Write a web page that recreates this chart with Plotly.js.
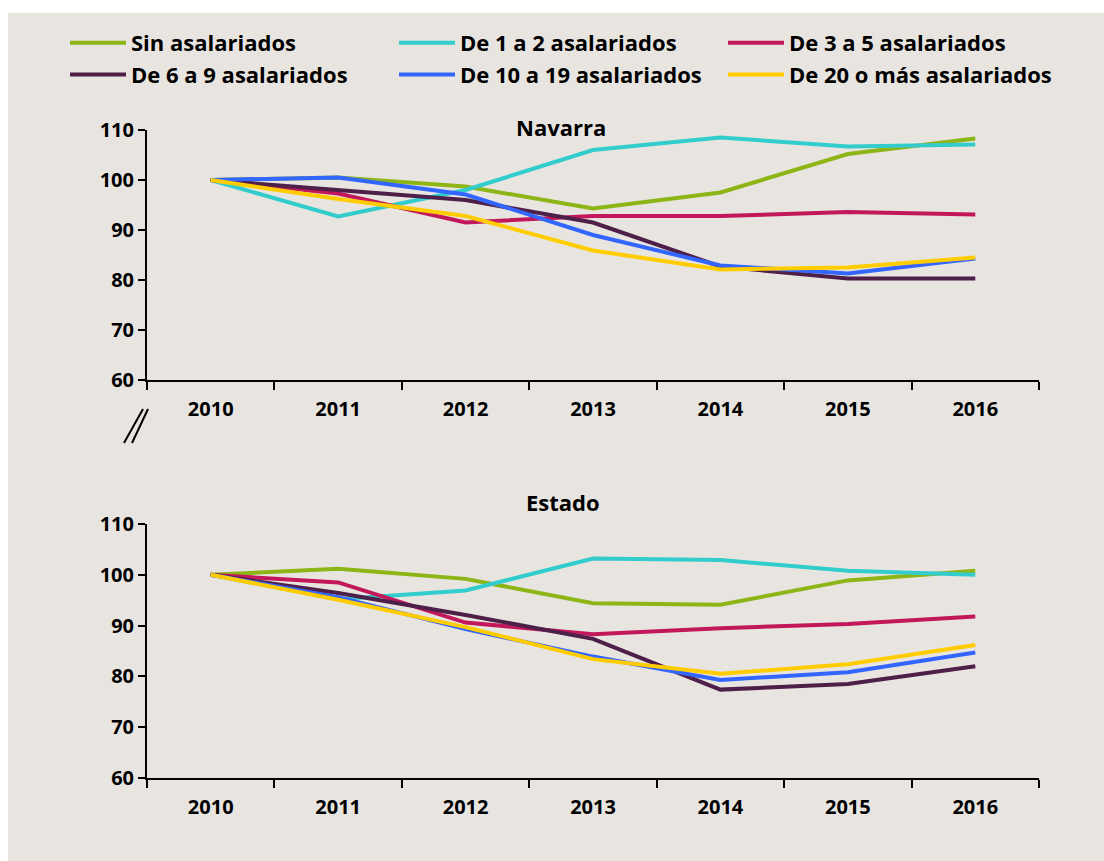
<!DOCTYPE html>
<html>
<head>
<meta charset="utf-8">
<script src="https://cdn.plot.ly/plotly-3.0.1.min.js"></script>
<style>
  body { margin: 0; background: #ffffff; }
  #chart { position: absolute; left: 8px; top: 13px; width: 1096px; height: 848px; }
</style>
</head>
<body>
<div id="chart"></div>
<script>
  // years on the x axis
  const years = ["2010", "2011", "2012", "2013", "2014", "2015", "2016"];

  const seriesNames = [
    "Sin asalariados",
    "De 1 a 2 asalariados",
    "De 3 a 5 asalariados",
    "De 6 a 9 asalariados",
    "De 10 a 19 asalariados",
    "De 20 o más asalariados",
  ];
  const seriesColors = ["#8db516", "#33cccc", "#c2185b", "#4d1f49", "#3366ff", "#ffcc00"];

  // Navarra (index 2010 = 100)
  const navSin = [100, 100.5, 98.7, 94.3, 97.5, 105.2, 108.3];
  const nav1a2 = [100, 92.7, 98.0, 106.0, 108.5, 106.7, 107.1];
  const nav3a5 = [100, 97.3, 91.5, 92.8, 92.8, 93.6, 93.1];
  const nav6a9 = [100, 97.9, 96.0, 91.5, 82.7, 80.3, 80.3];
  const nav10a19 = [100, 100.5, 97.1, 89.0, 82.9, 81.3, 84.3];
  const nav20mas = [100, 96.2, 92.8, 85.9, 82.1, 82.5, 84.5];

  // Estado (index 2010 = 100)
  const estSin = [100, 101.2, 99.2, 94.4, 94.1, 98.9, 100.8];
  const est1a2 = [100, 95.2, 96.9, 103.2, 102.9, 100.8, 100.0];
  const est3a5 = [100, 98.5, 90.6, 88.3, 89.5, 90.3, 91.8];
  const est6a9 = [100, 96.4, 92.1, 87.4, 77.4, 78.5, 82.0];
  const est10a19 = [100, 95.6, 89.3, 83.9, 79.3, 80.8, 84.7];
  const est20mas = [100, 95.1, 89.7, 83.4, 80.5, 82.4, 86.2];

  const navarra = [navSin, nav1a2, nav3a5, nav6a9, nav10a19, nav20mas];
  const estado = [estSin, est1a2, est3a5, est6a9, est10a19, est20mas];

  const FONT = "Open Sans, sans-serif";

  // figure geometry (px)
  const W = 1096, H = 848;
  const M = { l: 139, r: 65, t: 100, b: 0 };
  const PW = W - M.l - M.r, PH = H - M.t - M.b;
  let px2x = (px) => (px - M.l) / PW;
  let px2y = (py) => 1 - (py - M.t) / PH;

  let makeTraces = (values, axis, showlegend) =>
    values.map((ys, i) => ({
      type: "scatter",
      mode: "lines",
      x: years,
      y: ys,
      name: seriesNames[i],
      legendgroup: seriesNames[i],
      showlegend: showlegend,
      xaxis: axis.x,
      yaxis: axis.y,
      line: { color: seriesColors[i], width: 4 },
      hoverinfo: "x+y+name",
    }));

  const data = [
    ...makeTraces(navarra, { x: "x", y: "y" }, true),
    ...makeTraces(estado, { x: "x2", y: "y2" }, false),
  ];

  let xAxis = (anchor) => ({
    anchor: anchor,
    domain: [0, 1],
    type: "category",
    range: [-0.5, 6.5],
    tickson: "boundaries",
    ticks: "outside",
    ticklen: 8,
    tickwidth: 2,
    tickcolor: "#000",
    showline: true,
    linecolor: "#000",
    linewidth: 2,
    showgrid: false,
    zeroline: false,
    ticklabelstandoff: 10,
    tickfont: { family: FONT, size: 20, weight: 700, color: "#000" },
  });

  let yAxis = (anchor, top, bottom) => ({
    anchor: anchor,
    domain: [px2y(bottom), px2y(top)],
    range: [60, 110],
    dtick: 10,
    ticks: "outside",
    ticklen: 7,
    tickwidth: 2,
    tickcolor: "#000",
    showline: true,
    linecolor: "#000",
    linewidth: 2,
    showgrid: false,
    zeroline: false,
    tickfont: { family: FONT, size: 20, weight: 700, color: "#000" },
  });

  // break mark "//" between panels
  let breakLine = (x0, y0, x1, y1) => ({
    type: "line",
    xref: "paper",
    yref: "paper",
    x0: px2x(x0),
    x1: px2x(x1),
    y0: px2y(y0),
    y1: px2y(y1),
    line: { color: "#000", width: 2 },
  });

  let panelTitle = (text, cx, cy) => ({
    text: text,
    xref: "paper",
    yref: "paper",
    x: px2x(cx),
    y: px2y(cy),
    showarrow: false,
    font: { family: FONT, size: 22, weight: 700, color: "#000" },
  });

  const layout = {
    width: W,
    height: H,
    paper_bgcolor: "#e8e5e0",
    plot_bgcolor: "#e8e5e0",
    margin: { ...M, autoexpand: false },
    font: { family: FONT, color: "#000" },
    showlegend: true,
    legend: {
      orientation: "h",
      x: px2x(57),
      y: px2y(9),
      xanchor: "left",
      yanchor: "top",
      entrywidth: 258,
      entrywidthmode: "pixels",
      itemwidth: 56,
      tracegroupgap: 0,
      bgcolor: "rgba(0,0,0,0)",
      font: { family: FONT, size: 22, weight: 700, color: "#000" },
    },
    xaxis: xAxis("y"),
    yaxis: yAxis("x", 117, 367),
    xaxis2: xAxis("y2"),
    yaxis2: yAxis("x2", 511, 765),
    annotations: [panelTitle("Navarra", 553, 97), panelTitle("Estado", 555, 489)],
    shapes: [breakLine(116, 430, 135, 396), breakLine(124, 430, 140, 396)],
  };

  const config = { displayModeBar: false, staticPlot: true };

  window.Plotly.newPlot("chart", data, layout, config);
</script>
</body>
</html>
